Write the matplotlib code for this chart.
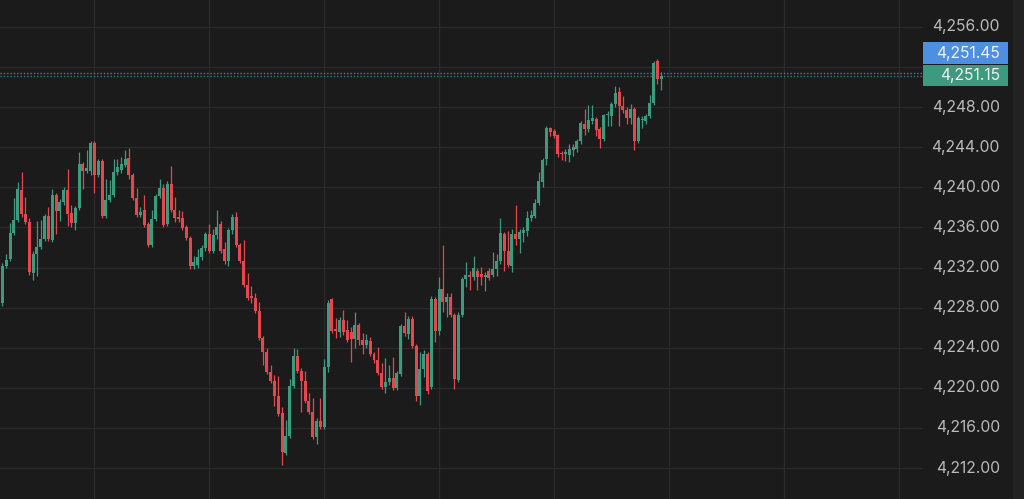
import matplotlib
matplotlib.use("Agg")
import matplotlib.pyplot as plt
import matplotlib.transforms as mtransforms
from matplotlib.patches import Rectangle
import numpy as np

# candle data (oldest -> newest)
opens = [4228.5, 4232.2, 4232.9, 4235.4, 4236.7, 4239.7, 4237.3, 4236.5, 4231.5, 4233.4,
         4234.0, 4234.8, 4237.1, 4234.7, 4239.2, 4237.6, 4238.5, 4239.7, 4237.4, 4236.4,
         4237.9, 4242.3, 4241.6, 4241.6, 4244.4, 4241.2, 4242.6, 4237.1, 4238.7, 4239.2,
         4241.5, 4241.7, 4242.2, 4242.9, 4241.2, 4238.9, 4237.2, 4237.7, 4236.3, 4234.2,
         4236.8, 4239.1, 4239.9, 4236.3, 4240.3, 4237.7, 4237.0, 4236.9, 4236.0, 4234.9,
         4232.2, 4232.3, 4233.1, 4233.9, 4235.3, 4233.7, 4235.2, 4236.3, 4233.8, 4232.7,
         4235.7, 4237.0, 4234.2, 4232.7, 4230.3, 4229.2, 4229.0, 4227.7, 4225.0, 4223.6,
         4221.6, 4220.7, 4219.2, 4217.5, 4213.5, 4215.2, 4220.2, 4223.2, 4221.7, 4220.7,
         4218.7, 4217.6, 4215.1, 4216.7, 4216.1, 4222.1, 4228.9, 4225.9, 4225.6, 4226.8,
         4225.8, 4225.6, 4224.9, 4226.3, 4224.8, 4224.3, 4224.7, 4223.4, 4222.8, 4221.5,
         4220.1, 4220.6, 4221.0, 4220.0, 4221.4, 4226.2, 4225.4, 4226.9, 4224.2, 4219.2,
         4221.9, 4223.4, 4220.1, 4228.9, 4225.7, 4229.9, 4228.6, 4229.1, 4227.3, 4220.8,
         4227.3, 4230.9, 4231.3, 4231.1, 4231.7, 4231.4, 4231.1, 4231.7, 4231.3, 4231.9,
         4232.7, 4235.3, 4233.7, 4232.2, 4235.3, 4234.8, 4235.4, 4235.6, 4236.9, 4237.1,
         4238.4, 4240.5, 4242.8, 4245.9, 4245.6, 4245.2, 4243.4, 4243.3, 4243.2, 4243.7,
         4243.8, 4244.6, 4246.3, 4245.8, 4246.6, 4246.8, 4245.8, 4244.8, 4247.2, 4247.1,
         4248.3, 4249.5, 4248.1, 4247.7, 4246.9, 4247.8, 4244.6, 4246.7, 4246.6, 4247.1,
         4248.4, 4252.6, 4250.8]
highs = [4232.5, 4233.4, 4236.4, 4238.9, 4240.5, 4241.5, 4239.0, 4236.9, 4233.7, 4236.6,
         4236.7, 4237.3, 4238.0, 4239.8, 4239.4, 4238.8, 4240.0, 4241.8, 4238.2, 4238.1,
         4243.5, 4242.5, 4243.7, 4244.6, 4244.6, 4242.8, 4242.8, 4240.8, 4240.7, 4242.8,
         4242.8, 4243.0, 4243.7, 4243.9, 4241.4, 4239.9, 4238.0, 4239.2, 4236.5, 4237.7,
         4239.3, 4240.8, 4240.3, 4240.6, 4242.1, 4239.0, 4237.7, 4237.6, 4236.2, 4235.1,
         4233.2, 4233.8, 4234.2, 4235.5, 4236.3, 4235.8, 4237.7, 4236.6, 4234.5, 4235.9,
         4237.3, 4237.5, 4234.4, 4234.7, 4231.5, 4230.2, 4229.5, 4228.6, 4225.2, 4224.0,
         4222.3, 4221.3, 4221.2, 4218.1, 4216.8, 4220.9, 4224.0, 4223.9, 4222.0, 4221.7,
         4219.5, 4219.0, 4217.0, 4219.0, 4222.9, 4228.8, 4229.0, 4227.0, 4227.1, 4227.8,
         4226.8, 4226.1, 4227.6, 4226.5, 4225.5, 4225.4, 4225.1, 4223.6, 4224.1, 4222.5,
         4223.0, 4222.3, 4223.1, 4221.7, 4226.4, 4227.6, 4227.2, 4227.2, 4224.4, 4223.6,
         4223.8, 4223.6, 4229.2, 4229.1, 4231.1, 4234.2, 4229.5, 4229.5, 4227.5, 4227.6,
         4231.1, 4232.6, 4231.7, 4233.2, 4232.0, 4232.1, 4231.6, 4232.0, 4233.6, 4233.4,
         4236.9, 4235.5, 4235.6, 4235.8, 4238.2, 4235.8, 4236.0, 4237.6, 4237.7, 4238.8,
         4241.5, 4242.9, 4246.1, 4246.0, 4245.8, 4245.3, 4243.6, 4243.8, 4244.3, 4244.3,
         4244.8, 4246.6, 4247.8, 4248.2, 4248.2, 4247.0, 4246.0, 4247.3, 4247.6, 4248.5,
         4250.1, 4250.0, 4249.1, 4248.0, 4248.3, 4248.0, 4247.1, 4247.1, 4247.3, 4249.2,
         4252.6, 4252.8, 4251.5]
lows = [4228.2, 4232.0, 4232.7, 4235.2, 4236.5, 4237.0, 4236.3, 4231.3, 4230.8, 4231.2,
        4233.8, 4234.6, 4234.6, 4234.5, 4235.3, 4236.6, 4238.2, 4236.1, 4236.0, 4235.7,
        4237.7, 4239.8, 4241.4, 4241.2, 4239.4, 4241.0, 4236.9, 4236.9, 4238.5, 4239.0,
        4241.2, 4241.4, 4242.0, 4240.8, 4238.7, 4237.0, 4237.0, 4236.0, 4234.0, 4234.0,
        4236.6, 4238.9, 4236.0, 4236.1, 4237.5, 4236.5, 4236.5, 4235.7, 4234.7, 4231.9,
        4231.9, 4232.0, 4232.8, 4233.7, 4233.5, 4233.5, 4234.8, 4233.5, 4232.4, 4232.2,
        4235.3, 4234.0, 4232.5, 4230.1, 4228.8, 4228.5, 4227.5, 4224.8, 4222.3, 4221.4,
        4220.5, 4218.2, 4217.2, 4212.3, 4213.3, 4215.0, 4220.0, 4221.5, 4217.6, 4218.5,
        4217.4, 4214.9, 4214.4, 4215.9, 4215.9, 4221.6, 4225.5, 4225.0, 4225.1, 4225.3,
        4224.6, 4222.6, 4224.0, 4224.3, 4223.4, 4224.0, 4223.2, 4222.5, 4221.3, 4219.9,
        4219.5, 4220.3, 4219.8, 4219.8, 4221.2, 4225.2, 4224.9, 4224.0, 4218.7, 4218.3,
        4221.1, 4219.4, 4219.9, 4224.6, 4225.3, 4227.6, 4227.1, 4227.1, 4219.9, 4220.6,
        4227.1, 4230.1, 4229.8, 4230.8, 4229.8, 4230.3, 4229.7, 4230.8, 4231.1, 4231.2,
        4232.4, 4231.7, 4232.1, 4231.6, 4234.2, 4233.5, 4234.5, 4235.1, 4236.6, 4236.9,
        4238.2, 4240.0, 4242.2, 4245.1, 4244.9, 4243.0, 4242.7, 4242.6, 4242.5, 4243.1,
        4243.5, 4244.3, 4245.2, 4245.5, 4246.3, 4245.1, 4243.9, 4244.6, 4246.1, 4246.1,
        4248.0, 4246.1, 4247.4, 4246.3, 4246.3, 4243.7, 4244.4, 4245.9, 4246.3, 4246.9,
        4248.2, 4250.3, 4249.7]
closes = [4232.2, 4232.8, 4235.4, 4236.7, 4239.8, 4237.3, 4236.5, 4231.6, 4233.4, 4234.0,
          4234.8, 4237.1, 4234.8, 4239.2, 4237.6, 4238.5, 4239.7, 4237.3, 4236.4, 4237.9,
          4242.3, 4241.6, 4241.9, 4244.4, 4241.2, 4242.6, 4237.1, 4238.7, 4239.2, 4241.5,
          4242.0, 4242.3, 4242.8, 4241.2, 4238.9, 4237.2, 4237.5, 4236.2, 4234.2, 4236.8,
          4239.1, 4239.9, 4236.2, 4240.3, 4237.7, 4236.9, 4236.8, 4235.9, 4234.9, 4232.2,
          4232.6, 4233.1, 4233.9, 4235.3, 4233.7, 4235.2, 4236.0, 4233.7, 4232.7, 4235.7,
          4237.0, 4234.2, 4232.7, 4230.3, 4229.0, 4229.0, 4227.7, 4225.0, 4223.6, 4221.6,
          4220.7, 4219.2, 4217.4, 4213.6, 4215.2, 4220.2, 4223.2, 4221.7, 4220.7, 4218.7,
          4217.6, 4215.1, 4216.7, 4216.1, 4222.1, 4228.5, 4225.7, 4225.7, 4226.8, 4225.6,
          4224.8, 4224.9, 4226.3, 4224.8, 4224.3, 4224.8, 4223.4, 4222.8, 4221.5, 4220.1,
          4220.6, 4221.0, 4220.0, 4221.5, 4226.2, 4225.5, 4226.9, 4224.2, 4219.2, 4221.9,
          4223.4, 4219.7, 4228.9, 4225.7, 4229.9, 4228.6, 4229.1, 4227.3, 4220.9, 4227.3,
          4230.9, 4231.3, 4231.1, 4232.0, 4231.1, 4231.1, 4231.3, 4231.0, 4231.9, 4232.7,
          4235.4, 4233.7, 4232.3, 4235.3, 4234.8, 4235.5, 4235.7, 4236.9, 4237.2, 4238.4,
          4240.6, 4242.7, 4245.9, 4245.5, 4245.1, 4243.3, 4243.3, 4243.5, 4243.8, 4244.0,
          4244.6, 4246.4, 4245.8, 4246.7, 4246.9, 4245.7, 4244.8, 4247.2, 4247.3, 4248.3,
          4249.4, 4248.1, 4247.7, 4246.9, 4247.8, 4244.6, 4246.9, 4246.8, 4247.1, 4248.4,
          4252.4, 4250.8, 4251.15]

price_ticks = [4212, 4216, 4220, 4224, 4228, 4232, 4236, 4240, 4244, 4248, 4252, 4256]
hidden_ticks = [4252]  # covered by the price boxes
time_grid = [24, 54, 84, 114, 144, 174, 204, 234]
blue_price = 4251.45
last_price = 4251.15

BG = '#1b1b1b'
GRID = '#2a2a2a'
GREEN = '#3e9a7f'
RED = '#e5474f'
BLUE = '#4d8fe0'
TEXT = '#bababa'

W, H = 1024, 499
fig = plt.figure(figsize=(W / 100, H / 100), dpi=100)
fig.patch.set_facecolor(BG)
plot_w = 922
ax = fig.add_axes([0, 0, plot_w / W, 1])
ax.set_facecolor(BG)

o = np.array(opens)
h = np.array(highs)
l = np.array(lows)
c = np.array(closes)
x = np.arange(len(o))
cols = np.where(c >= o, GREEN, RED)

for g in time_grid:
    ax.axvline(g, color=GRID, lw=1, zorder=0)
for p in price_ticks:
    ax.axhline(p, color=GRID, lw=1, zorder=0)

ax.vlines(x, l, h, colors=cols, linewidth=0.9, zorder=2)
body_h = np.maximum(np.abs(c - o), 0.12)
ax.bar(x, body_h, bottom=np.minimum(o, c), width=0.78, color=cols, linewidth=0, zorder=3)

ax.axhline(blue_price, color=BLUE, lw=1, ls=(0, (1, 1.4)), alpha=0.8, zorder=1)
ax.axhline(last_price, color=GREEN, lw=1, ls=(0, (1, 1.4)), alpha=0.8, zorder=1)

ax.set_xlim(-0.65, -0.65 + plot_w / 3.83)
ax.set_ylim(4208.91, 4258.69)
ax.set_xticks([])
ax.set_yticks([])
for s in ax.spines.values():
    s.set_visible(False)

# price scale on the right
fig.patches.append(Rectangle((1013 / W, 0), 11 / W, 1, transform=fig.transFigure,
                             facecolor='#222222', edgecolor='none'))
trans = mtransforms.blended_transform_factory(fig.transFigure, ax.transData)
for p in price_ticks:
    if p in hidden_ticks:
        continue
    fig.text(1000 / W, p, f"{p:,.2f}", transform=trans, ha='right', va='center',
             color=TEXT, fontsize=11.3, family=['Inter', 'DejaVu Sans'])

# current price boxes
y_last = ax.transData.transform((0, last_price))[1] / H
box_h = 21.5 / H
for i, (val, col) in enumerate([(last_price, GREEN), (blue_price, BLUE)]):
    yc = y_last + i * (box_h + 1 / H)
    fig.patches.append(Rectangle((923 / W, yc - box_h / 2), 85 / W, box_h,
                                 transform=fig.transFigure, facecolor=col, edgecolor='none'))
    fig.text(1000 / W, yc, f"{val:,.2f}", ha='right', va='center', color='#f2f2f2',
             fontsize=11.3, family=['Inter', 'DejaVu Sans'])

fig.savefig('out.png', dpi=100, facecolor=BG)
